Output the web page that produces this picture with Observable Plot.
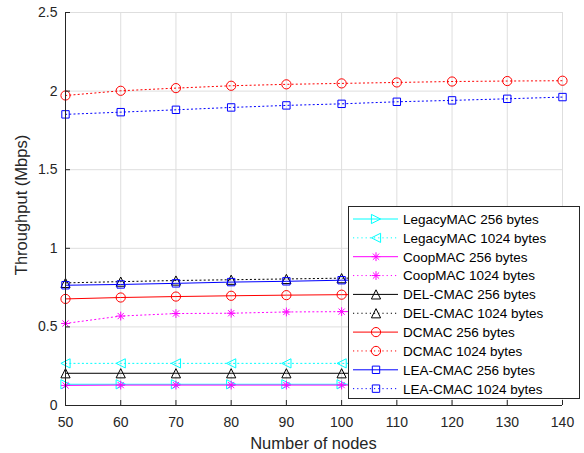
<!DOCTYPE html>
<html><head><meta charset="utf-8">
<script src="https://cdn.jsdelivr.net/npm/d3@7"></script>
<script src="https://cdn.jsdelivr.net/npm/@observablehq/plot@0.6"></script>
<style>body{margin:0;background:#fff;} #chart svg{display:block;}</style>
</head><body><div id="chart"></div>
<script>
// ---- data ----
const nodes = [50, 60, 70, 80, 90, 100, 110, 120, 130, 140];
const legacy256  = [0.135, 0.135, 0.135, 0.135, 0.135, 0.135, 0.135, 0.135, 0.135, 0.135];
const legacy1024 = [0.268, 0.268, 0.268, 0.268, 0.268, 0.268, 0.268, 0.268, 0.268, 0.268];
const coop256    = [0.128, 0.130, 0.130, 0.130, 0.130, 0.130, 0.130, 0.130, 0.130, 0.130];
const coop1024   = [0.522, 0.569, 0.585, 0.587, 0.595, 0.597, 0.600, 0.603, 0.606, 0.609];
const del256     = [0.205, 0.205, 0.205, 0.205, 0.205, 0.205, 0.205, 0.205, 0.205, 0.205];
const del1024    = [0.780, 0.788, 0.795, 0.800, 0.805, 0.810, 0.812, 0.815, 0.817, 0.820];
const dcmac256   = [0.678, 0.687, 0.693, 0.698, 0.702, 0.705, 0.707, 0.709, 0.711, 0.712];
const dcmac1024  = [1.972, 2.002, 2.019, 2.034, 2.043, 2.049, 2.055, 2.061, 2.064, 2.066];
const lea256     = [0.765, 0.770, 0.777, 0.785, 0.790, 0.797, 0.800, 0.803, 0.805, 0.807];
const lea1024    = [1.852, 1.866, 1.881, 1.896, 1.909, 1.919, 1.932, 1.941, 1.951, 1.962];
const seriesNames = ["LegacyMAC 256 bytes", "LegacyMAC 1024 bytes", "CoopMAC 256 bytes", "CoopMAC 1024 bytes",
  "DEL-CMAC 256 bytes", "DEL-CMAC 1024 bytes", "DCMAC 256 bytes", "DCMAC 1024 bytes",
  "LEA-CMAC 256 bytes", "LEA-CMAC 1024 bytes"];
const seriesValues = [legacy256, legacy1024, coop256, coop1024, del256, del1024, dcmac256, dcmac1024, lea256, lea1024];
const xTicks = [50, 60, 70, 80, 90, 100, 110, 120, 130, 140];
const yTicks = [0, 0.5, 1, 1.5, 2, 2.5];
const yTickLabels = ["0", "0.5", "1", "1.5", "2", "2.5"];
const xLabel = "Number of nodes";
const yLabel = "Throughput (Mbps)";

// ---- styles ----
const symCircle = {draw(c){const r=4.6; c.moveTo(r,0); c.arc(0,0,r,0,2*Math.PI);}};
const symSquare = {draw(c){const h=3.7; c.rect(-h,-h,2*h,2*h);}};
const symUp = {draw(c){const h=4.6; c.moveTo(0,-h); c.lineTo(h,h); c.lineTo(-h,h); c.closePath();}};
const symRight = {draw(c){const h=4.6; c.moveTo(h,0); c.lineTo(-h,-h); c.lineTo(-h,h); c.closePath();}};
const symLeft = {draw(c){const h=4.6; c.moveTo(-h,0); c.lineTo(h,-h); c.lineTo(h,h); c.closePath();}};
const symStar = {draw(c){const h=4.4, d=h*0.7071;
  c.moveTo(-h,0); c.lineTo(h,0); c.moveTo(0,-h); c.lineTo(0,h);
  c.moveTo(-d,-d); c.lineTo(d,d); c.moveTo(-d,d); c.lineTo(d,-d);}};
const styles = [
  {color:"#00ffff", dotted:false, sym:symRight},
  {color:"#00ffff", dotted:true,  sym:symLeft},
  {color:"#ff00ff", dotted:false, sym:symStar},
  {color:"#ff00ff", dotted:true,  sym:symStar},
  {color:"#000000", dotted:false, sym:symUp},
  {color:"#000000", dotted:true,  sym:symUp},
  {color:"#ff0000", dotted:false, sym:symCircle},
  {color:"#ff0000", dotted:true,  sym:symCircle},
  {color:"#0000ff", dotted:false, sym:symSquare},
  {color:"#0000ff", dotted:true,  sym:symSquare}
];
const DASH = "1.2,3";
const AX = "#262626";
const FONT = "'Liberation Sans', Arial, Helvetica, sans-serif";

const marks = [
  Plot.gridX(xTicks, {stroke:"#dedede", strokeOpacity:1}),
  Plot.gridY(yTicks, {stroke:"#dedede", strokeOpacity:1}),
];
seriesValues.forEach((vals, k) => {
  const rows = nodes.map((n, i) => ({x:n, y:vals[i]}));
  const st = styles[k];
  marks.push(Plot.line(rows, {x:"x", y:"y", stroke:st.color, strokeWidth:1,
    strokeDasharray: st.dotted ? DASH : null}));
  marks.push(Plot.dot(rows, {x:"x", y:"y", symbol:st.sym, stroke:st.color, fill:"none", strokeWidth:1}));
});
marks.push(
  Plot.ruleX([50], {stroke:AX, strokeWidth:1}),
  Plot.ruleY([0], {stroke:AX, strokeWidth:1}),
  Plot.axisX(xTicks, {tickSize:-5, stroke:AX, text:null, label:null}),
  Plot.axisX(xTicks, {tickSize:0, tickPadding:12, fill:AX, label:null, tickFormat:d=>String(d)}),
  Plot.axisY(yTicks, {tickSize:-5, stroke:AX, text:null, label:null}),
  Plot.axisY(yTicks, {tickSize:0, tickPadding:8, fill:AX, label:null, tickFormat:d=>yTickLabels[yTicks.indexOf(d)]})
);

const plot = Plot.plot({
  width:584, height:453,
  marginLeft:65, marginRight:22, marginTop:12, marginBottom:48,
  x:{domain:[50,140]},
  y:{domain:[0,2.5]},
  style:{fontFamily:FONT, fontSize:"14px", background:"#fff", overflow:"visible"},
  marks
});

const svg = d3.select(plot);
// axis labels
svg.append("text").attr("x", 313.5).attr("y", 449).attr("text-anchor","middle")
  .attr("fill", AX).style("font-size","16.5px").text(xLabel);
svg.append("text").attr("transform","translate(27,205) rotate(-90)").attr("text-anchor","middle")
  .attr("fill", AX).style("font-size","16.5px").text(yLabel);
// legend
const lg = svg.append("g").attr("text-anchor","start");
lg.append("rect").attr("x",348.5).attr("y",206.5).attr("width",231).attr("height",192)
  .attr("fill","#fff").attr("stroke",AX).attr("stroke-width",1);
seriesNames.forEach((name, i) => {
  const cy = 219 + i*18.85, st = styles[i];
  lg.append("line").attr("x1",353).attr("x2",398).attr("y1",cy).attr("y2",cy)
    .attr("stroke",st.color).attr("stroke-width",1).attr("stroke-dasharray", st.dotted ? DASH : null);
  lg.append("path").attr("d", d3.symbol().type(st.sym)()).attr("transform",`translate(376,${cy})`)
    .attr("fill","none").attr("stroke",st.color).attr("stroke-width",1);
  lg.append("text").attr("x",403).attr("y",cy).attr("dy","0.36em").attr("text-anchor","start").attr("fill","#000")
    .style("font-size","13.5px").text(name);
});
document.getElementById("chart").appendChild(plot);
</script>
</body></html>
